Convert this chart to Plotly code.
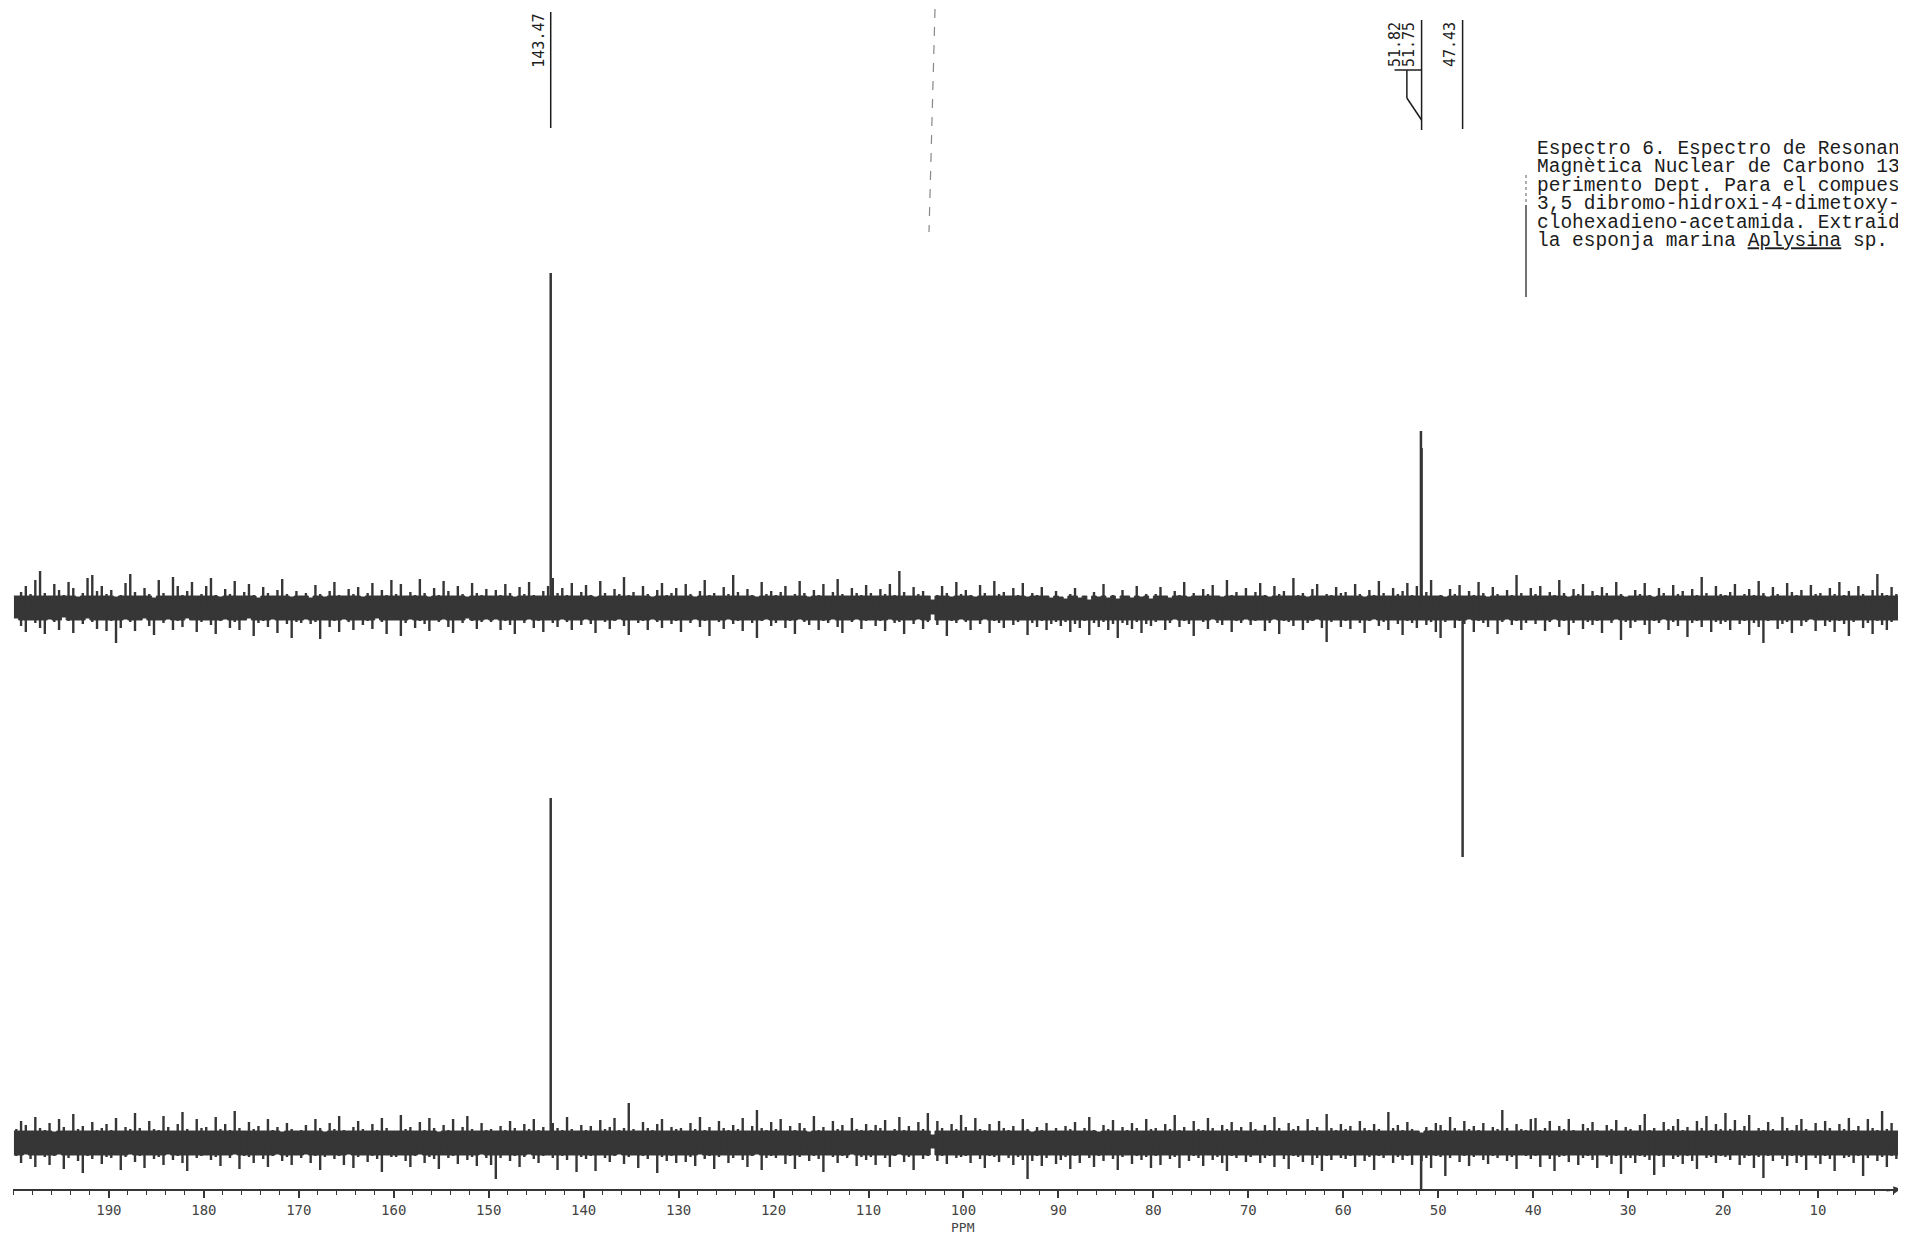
import numpy as np
import plotly.graph_objects as go

# ---------------- data ----------------
PPM_START = 200.0   # first sampled chemical shift of the noise envelopes
PPM_STEP = 0.5      # sampling step of the envelopes (ppm)

# Upper / lower envelope of the noisy baseline, upper trace (DEPT, intensity units)
TOP_UPPER = [
    12, 16, 22, 14, 28, 37, 15, 12, 24, 18, 13, 26, 20, 11, 15, 30, 33, 17, 22, 14,
    18, 11, 13, 25, 34, 16, 12, 20, 14, 10, 28, 15, 12, 31, 22, 13, 17, 26, 12, 14,
    22, 30, 13, 11, 19, 14, 27, 12, 16, 24, 13, 10, 21, 15, 12, 18, 29, 14, 11, 17,
    12, 15, 10, 23, 14, 11, 17, 26, 13, 12, 19, 14, 21, 11, 15, 25, 12, 18, 13, 28,
    14, 24, 12, 16, 13, 29, 15, 11, 20, 13, 27, 17, 12, 22, 14, 11, 25, 15, 13, 19,
    12, 18, 13, 24, 15, 11, 21, 14, 26, 13, 12, 17, 22, 30, 15, 20, 13, 25, 12, 16,
    23, 13, 11, 27, 15, 12, 19, 14, 31, 13, 16, 12, 22, 14, 11, 18, 25, 13, 15, 20,
    12, 24, 14, 11, 17, 28, 13, 15, 12, 21, 14, 33, 16, 12, 19, 13, 11, 26, 14, 17,
    13, 16, 22, 12, 14, 27, 15, 11, 18, 13, 24, 12, 16, 29, 14, 12, 20, 15, 13, 23,
    15, 12, 19, 14, 24, 13, 37, 16, 12, 21, 14, 17, 12, 8, 13, 22, 15, 11, 26, 14,
    18, 13, 11, 23, 15, 12, 27, 14, 16, 12, 20, 13, 25, 11, 15, 13, 21, 12, 10, 17,
    11, 9, 14, 20, 10, 12, 8, 16, 11, 24, 10, 13, 9, 18, 12, 10, 22, 11, 14, 9,
    14, 21, 12, 10, 17, 13, 26, 11, 15, 12, 19, 14, 23, 12, 11, 28, 13, 16, 12, 20,
    12, 16, 25, 13, 11, 22, 14, 17, 12, 30, 13, 15, 11, 19, 24, 12, 14, 13, 21, 15,
    16, 12, 24, 14, 11, 18, 13, 27, 15, 12, 20, 14, 17, 25, 13, 22, 14, 16, 28, 12,
    13, 11, 19, 14, 23, 12, 17, 13, 26, 15, 11, 21, 14, 12, 18, 13, 33, 15, 12, 20,
    14, 22, 12, 16, 13, 28, 15, 11, 19, 14, 24, 12, 17, 13, 21, 15, 12, 26, 14, 11,
    12, 18, 14, 25, 13, 11, 20, 15, 12, 23, 14, 17, 12, 19, 13, 31, 15, 12, 22, 14,
    13, 16, 24, 12, 14, 19, 13, 27, 15, 11, 21, 14, 12, 25, 16, 13, 18, 12, 23, 14,
    15, 12, 20, 14, 26, 13, 17, 12, 22, 14, 12, 18, 34, 15, 13, 21, 14, 12, 19, 15,
]
TOP_LOWER = [
    -10, -18, -24, -12, -15, -20, -26, -11, -14, -22, -9, -13, -25, -12, -16, -10, -14, -21, -12, -23,
    -13, -35, -20, -11, -14, -23, -12, -10, -18, -27, -12, -15, -11, -22, -13, -19, -10, -12, -24, -14,
    -12, -17, -26, -13, -11, -20, -14, -22, -12, -10, -28, -15, -13, -19, -11, -25, -12, -16, -30, -14,
    -15, -11, -16, -14, -31, -12, -19, -13, -24, -11, -14, -22, -12, -17, -13, -21, -10, -14, -26, -12,
    -12, -28, -15, -11, -20, -13, -16, -23, -12, -14, -11, -19, -25, -12, -15, -10, -13, -21, -14, -11,
    -14, -11, -22, -13, -17, -26, -12, -15, -11, -20, -13, -24, -12, -15, -19, -11, -14, -22, -12, -17,
    -11, -16, -25, -12, -14, -21, -13, -11, -18, -27, -12, -15, -13, -22, -11, -14, -20, -12, -16, -13,
    -24, -12, -15, -11, -19, -13, -28, -12, -14, -21, -11, -16, -13, -23, -12, -15, -30, -13, -11, -18,
    -15, -12, -20, -13, -26, -11, -14, -17, -12, -22, -13, -15, -11, -19, -25, -12, -14, -11, -21, -13,
    -12, -18, -13, -23, -11, -15, -14, -26, -12, -16, -11, -21, -14, -6, -17, -12, -28, -13, -15, -11,
    -14, -22, -12, -16, -11, -25, -13, -15, -20, -12, -17, -14, -12, -27, -15, -19, -13, -22, -16, -14,
    -18, -14, -24, -16, -20, -13, -27, -15, -19, -14, -22, -16, -30, -15, -17, -21, -14, -25, -16, -18,
    -14, -12, -22, -15, -11, -19, -13, -16, -28, -12, -14, -21, -11, -15, -17, -12, -24, -13, -15, -11,
    -17, -13, -12, -23, -15, -11, -26, -13, -14, -18, -12, -22, -15, -13, -11, -20, -34, -14, -12, -19,
    -13, -21, -12, -15, -25, -13, -11, -18, -14, -22, -12, -16, -27, -13, -15, -20, -12, -17, -14, -24,
    -30, -14, -12, -20, -13, -16, -11, -24, -13, -15, -19, -12, -26, -14, -11, -17, -13, -22, -15, -12,
    -16, -12, -23, -14, -11, -19, -13, -27, -15, -12, -21, -14, -17, -13, -25, -12, -15, -11, -32, -14,
    -20, -14, -12, -17, -26, -13, -15, -11, -22, -14, -18, -12, -29, -15, -13, -19, -12, -24, -14, -16,
    -14, -22, -12, -16, -13, -27, -15, -19, -35, -13, -12, -21, -16, -14, -25, -12, -18, -14, -11, -23,
    -12, -18, -14, -24, -13, -16, -28, -14, -12, -20, -15, -26, -13, -17, -22, -14, -12, -19, -15, -13,
]

# Upper / lower envelope of the noisy baseline, lower trace
BOT_UPPER = [
    14, 22, 18, 12, 26, 15, 13, 20, 11, 24, 16, 12, 29, 14, 17, 12, 21, 13, 15, 19,
    13, 25, 12, 16, 14, 30, 15, 12, 22, 14, 13, 27, 16, 12, 19, 31, 14, 12, 24, 15,
    16, 12, 26, 14, 19, 13, 32, 15, 12, 21, 14, 17, 12, 24, 13, 16, 11, 20, 14, 12,
    13, 18, 12, 24, 15, 11, 20, 14, 27, 13, 12, 16, 22, 14, 12, 19, 13, 25, 15, 12,
    12, 28, 14, 16, 12, 21, 13, 25, 15, 11, 18, 13, 24, 12, 16, 27, 14, 12, 20, 13,
    14, 12, 17, 13, 22, 15, 12, 19, 14, 24, 13, 16, 12, 20, 15, 13, 26, 14, 12, 18,
    13, 17, 12, 23, 14, 16, 25, 13, 15, 40, 14, 12, 21, 15, 13, 19, 24, 12, 16, 14,
    15, 12, 20, 14, 26, 13, 16, 12, 22, 15, 13, 18, 14, 25, 12, 17, 33, 15, 13, 21,
    14, 24, 12, 17, 13, 20, 15, 11, 27, 13, 16, 12, 22, 14, 18, 12, 25, 14, 13, 19,
    13, 18, 15, 23, 12, 14, 26, 13, 17, 12, 21, 14, 30, 8, 22, 15, 12, 19, 14, 28,
    16, 12, 25, 14, 13, 19, 12, 22, 15, 13, 17, 12, 24, 14, 11, 16, 13, 20, 12, 15,
    12, 17, 14, 21, 12, 15, 26, 13, 11, 18, 14, 23, 12, 16, 13, 20, 15, 12, 24, 14,
    15, 12, 19, 14, 28, 13, 16, 12, 22, 14, 13, 25, 15, 12, 18, 14, 21, 13, 16, 12,
    21, 14, 12, 18, 13, 26, 15, 12, 20, 14, 17, 12, 24, 13, 16, 12, 29, 15, 13, 19,
    14, 17, 12, 22, 15, 13, 19, 14, 12, 31, 15, 18, 13, 21, 14, 12, 10, 16, 13, 20,
    18, 13, 26, 15, 12, 22, 14, 17, 13, 20, 12, 16, 14, 33, 15, 12, 19, 14, 13, 24,
    25, 13, 15, 22, 12, 17, 14, 24, 13, 12, 19, 15, 21, 13, 12, 18, 14, 23, 12, 16,
    14, 12, 18, 29, 13, 15, 12, 21, 14, 17, 24, 13, 16, 12, 22, 15, 27, 13, 19, 14,
    30, 14, 23, 13, 17, 28, 12, 15, 13, 21, 14, 12, 26, 15, 13, 18, 24, 14, 12, 20,
    13, 22, 15, 12, 19, 14, 25, 13, 17, 12, 24, 15, 13, 32, 14, 20, 12, 16, 22, 14,
]
BOT_LOWER = [
    -13, -20, -11, -16, -24, -12, -14, -22, -13, -11, -26, -15, -12, -18, -30, -13, -16, -12, -21, -14,
    -15, -12, -27, -14, -11, -19, -13, -25, -12, -16, -14, -22, -11, -17, -13, -20, -28, -12, -15, -13,
    -12, -17, -14, -23, -12, -15, -11, -26, -13, -14, -20, -12, -16, -24, -13, -11, -18, -14, -22, -12,
    -15, -11, -20, -13, -27, -14, -12, -16, -13, -22, -11, -25, -14, -12, -19, -13, -16, -29, -12, -14,
    -14, -12, -18, -24, -13, -11, -20, -14, -16, -26, -12, -15, -13, -21, -12, -17, -14, -23, -11, -15,
    -22, -36, -15, -12, -18, -13, -24, -14, -11, -16, -20, -13, -12, -15, -27, -13, -17, -12, -29, -14,
    -16, -13, -28, -12, -15, -19, -13, -11, -21, -14, -12, -25, -13, -16, -12, -30, -14, -18, -13, -20,
    -12, -19, -14, -23, -11, -16, -13, -26, -14, -12, -20, -15, -12, -17, -24, -13, -11, -27, -15, -13,
    -15, -12, -21, -13, -26, -14, -12, -18, -13, -16, -29, -12, -14, -20, -13, -15, -11, -23, -14, -17,
    -14, -22, -12, -15, -24, -13, -11, -19, -14, -27, -12, -16, -13, -5, -18, -13, -21, -12, -15, -14,
    -13, -20, -12, -16, -25, -13, -14, -19, -12, -15, -22, -14, -17, -36, -18, -13, -23, -15, -12, -21,
    -17, -14, -26, -13, -20, -12, -15, -24, -13, -18, -12, -16, -27, -14, -12, -21, -13, -17, -14, -25,
    -13, -22, -12, -16, -14, -25, -12, -18, -13, -15, -23, -12, -17, -14, -20, -28, -13, -15, -12, -19,
    -14, -12, -20, -15, -13, -24, -12, -16, -26, -13, -14, -19, -12, -22, -15, -28, -13, -17, -12, -15,
    -16, -13, -24, -12, -18, -14, -27, -13, -15, -12, -20, -14, -17, -13, -22, -12, -18, -15, -25, -13,
    -14, -33, -15, -12, -19, -13, -23, -14, -12, -17, -21, -13, -15, -12, -18, -14, -26, -12, -13, -16,
    -13, -24, -12, -16, -28, -14, -13, -19, -12, -22, -15, -13, -17, -25, -12, -14, -21, -13, -31, -15,
    -15, -20, -13, -14, -17, -32, -13, -24, -12, -16, -14, -21, -13, -18, -26, -12, -15, -14, -20, -13,
    -14, -17, -12, -22, -15, -13, -25, -14, -35, -13, -18, -12, -16, -23, -13, -20, -14, -27, -12, -15,
    -21, -13, -16, -28, -12, -15, -14, -20, -13, -33, -15, -12, -18, -14, -24, -13, -16, -12, -19, -15,
]

# Resolved signals (ppm, intensity)
TOP_PEAK_PPM = [143.47, 51.82, 51.75, 47.43]
TOP_PEAK_INT = [335, 177, 160, -249]
BOT_PEAK_PPM = [143.47, 51.80]
BOT_PEAK_INT = [345, -48]

PEAK_LABELS = ["143.47", "51.82", "51.75", "47.43"]

TICK_VALS = [190, 180, 170, 160, 150, 140, 130, 120, 110, 100, 90, 80, 70, 60, 50, 40, 30, 20, 10]
TICK_TEXT = ["190", "180", "170", "160", "150", "140", "130", "120", "110", "100",
             "90", "80", "70", "60", "50", "40", "30", "20", "10"]
AXIS_TITLE = "PPM"

CAPTION_LINES = [
    "Espectro 6. Espectro de Resonan",
    "Magnètica Nuclear de Carbono 13",
    "perimento Dept. Para el compues",
    "3,5 dibromo-hidroxi-4-dimetoxy-",
    "clohexadieno-acetamida. Extraid",
    "la esponja marina <u>Aplysina</u> sp.",
]

# ---------------- geometry / style ----------------
PAGE = 8                     # body margin of the html page
W, H = 1906 - PAGE, 1236 - PAGE
ML, MR, MT, MB = 5, 5, 0, 47
PLOT_W = W - ML - MR
PLOT_H = H - MT - MB
INK = "#363636"
TEXT_INK = "#1c1c1c"
X_RANGE = [200.1, 1.26]
CORE = 12                    # half height of the dense, solid part of the noise band


def py(page_px):
    """paper y for a page pixel row"""
    return (PLOT_H - (page_px - PAGE - MT)) / PLOT_H


def pxx(page_px):
    """paper x for a page pixel column"""
    return (page_px - PAGE - ML) / PLOT_W


n = len(TOP_UPPER)
ppm = PPM_START - PPM_STEP * np.arange(n)

fig = go.Figure()

for up, lo, ya in [(TOP_UPPER, TOP_LOWER, "y"), (BOT_UPPER, BOT_LOWER, "y2")]:
    up = np.asarray(up, float)
    lo = np.asarray(lo, float)
    # dense core of the band
    fig.add_trace(go.Scatter(x=ppm, y=np.minimum(up, CORE), yaxis=ya, mode="lines",
                             line=dict(color=INK, width=1, shape="hv"),
                             hoverinfo="skip", showlegend=False))
    fig.add_trace(go.Scatter(x=ppm, y=np.maximum(lo, -CORE), yaxis=ya, mode="lines",
                             line=dict(color=INK, width=1, shape="hv"),
                             fill="tonexty", fillcolor=INK,
                             hoverinfo="skip", showlegend=False))
    # thin excursions beyond the core
    xs, ys = [], []
    for xv, u, l in zip(ppm - PPM_STEP / 2, up, lo):
        if u > CORE:
            xs += [xv, xv, None]
            ys += [0, u, None]
        if l < -CORE:
            xs += [xv, xv, None]
            ys += [0, l, None]
    fig.add_trace(go.Scatter(x=xs, y=ys, yaxis=ya, mode="lines",
                             line=dict(color=INK, width=2.4),
                             hoverinfo="skip", showlegend=False))


def stick_xy(pp, ii):
    xs, ys = [], []
    for p, i in zip(pp, ii):
        xs += [p, p, None]
        ys += [0, i, None]
    return xs, ys


for pp, ii, ya in [(TOP_PEAK_PPM, TOP_PEAK_INT, "y"), (BOT_PEAK_PPM, BOT_PEAK_INT, "y2")]:
    xs, ys = stick_xy(pp, ii)
    fig.add_trace(go.Scatter(x=xs, y=ys, yaxis=ya, mode="lines",
                             line=dict(color=INK, width=2.5),
                             hoverinfo="skip", showlegend=False))

shapes = []
annotations = []
LBL_FONT = dict(family="DejaVu Sans Mono", size=15, color=TEXT_INK)

# peak labels
label_pos = [  # (x ppm for anchor, xshift px, top page px)
    (TOP_PEAK_PPM[0], -1, 12),
    (TOP_PEAK_PPM[2], -15, 20),
    (TOP_PEAK_PPM[2], -1, 20),
    (TOP_PEAK_PPM[3], -1, 20),
]
for txt, (xp, xs, top) in zip(PEAK_LABELS, label_pos):
    annotations.append(dict(x=xp, y=py(top), xref="x", yref="paper", text=txt,
                            textangle=-90, showarrow=False, xanchor="right",
                            yanchor="top", xshift=xs, font=LBL_FONT))

line_style = dict(color=TEXT_INK, width=1.5)
for xp, y0, y1 in [(TOP_PEAK_PPM[0], 12, 128), (TOP_PEAK_PPM[2], 20, 130), (TOP_PEAK_PPM[3], 20, 129)]:
    shapes.append(dict(type="line", xref="x", yref="paper", x0=xp, x1=xp,
                       y0=py(y0), y1=py(y1), line=line_style))
# leader of 51.82 bending onto the 51.75 line
x_off = TOP_PEAK_PPM[2] + 1.55
shapes.append(dict(type="line", xref="x", yref="paper", x0=x_off + 1.3, x1=TOP_PEAK_PPM[2],
                   y0=py(70), y1=py(70), line=line_style))
shapes.append(dict(type="line", xref="x", yref="paper", x0=x_off, x1=x_off,
                   y0=py(70), y1=py(98), line=line_style))
shapes.append(dict(type="line", xref="x", yref="paper", x0=x_off, x1=TOP_PEAK_PPM[2],
                   y0=py(98), y1=py(120), line=line_style))

# caption block: one text, tight typewriter line pitch
cap_text = "<br>".join('<span style="font-size:19.5px">%s</span>' % s for s in CAPTION_LINES)
annotations.append(dict(x=pxx(1535), y=py(136), xref="paper", yref="paper",
                        text=cap_text, showarrow=False, xanchor="left", yanchor="top",
                        align="left",
                        font=dict(family="Liberation Mono", size=14.2, color=TEXT_INK)))
# margin rule beside the caption
shapes.append(dict(type="line", xref="paper", yref="paper", x0=pxx(1526), x1=pxx(1526),
                   y0=py(175), y1=py(205), line=dict(color="#777", width=1.2, dash="dot")))
shapes.append(dict(type="line", xref="paper", yref="paper", x0=pxx(1526), x1=pxx(1526),
                   y0=py(205), y1=py(297), line=dict(color="#444", width=1.5)))
# faint scan streak near 104 ppm
shapes.append(dict(type="line", xref="paper", yref="paper", x0=pxx(935), x1=pxx(929),
                   y0=py(9), y1=py(232), line=dict(color="#888", width=1.2, dash="dash")))

# axis title and end arrow
annotations.append(dict(x=100, y=py(1227), xref="x", yref="paper", text=AXIS_TITLE,
                        showarrow=False, xanchor="center", yanchor="middle",
                        font=dict(family="DejaVu Sans Mono", size=13, color="#444")))
annotations.append(dict(x=1, y=0, xref="paper", yref="paper", text="", showarrow=True,
                        ax=-16, ay=2, arrowhead=2, arrowsize=1, arrowwidth=1.5,
                        arrowcolor=INK))

top_base = 608 - PAGE - MT
bot_base = 1143 - PAGE - MT
fig.update_layout(
    width=W, height=H,
    margin=dict(l=ML, r=MR, t=MT, b=MB, pad=0),
    paper_bgcolor="white", plot_bgcolor="white",
    showlegend=False,
    xaxis=dict(range=X_RANGE, tickmode="array", tickvals=TICK_VALS, ticktext=TICK_TEXT,
               ticks="outside", ticklen=7, tickwidth=1.5, tickcolor=INK,
               minor=dict(tickmode="linear", tick0=0, dtick=2, ticks="outside",
                          ticklen=4, tickwidth=1.3, tickcolor=INK),
               showline=True, linecolor=INK, linewidth=2, showgrid=False, zeroline=False,
               tickfont=dict(family="DejaVu Sans Mono", size=14, color="#444")),
    yaxis=dict(range=[top_base - PLOT_H, top_base], visible=False, fixedrange=True),
    yaxis2=dict(range=[bot_base - PLOT_H, bot_base], visible=False, overlaying="y",
                fixedrange=True),
    shapes=shapes,
    annotations=annotations,
)

fig.write_html("out.html")
